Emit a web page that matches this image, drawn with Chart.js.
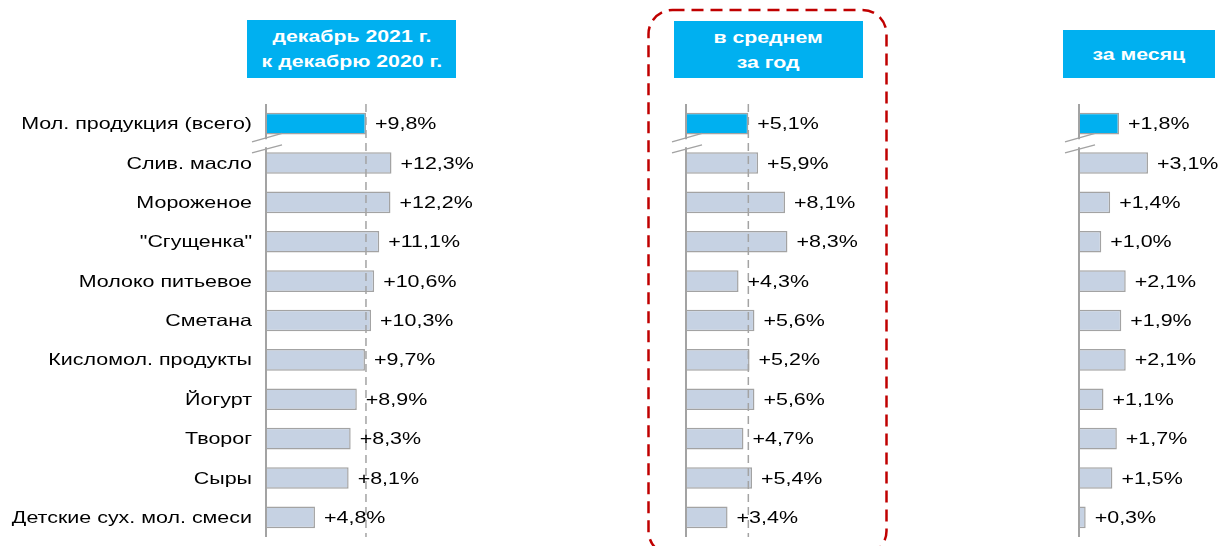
<!DOCTYPE html>
<html>
<head>
<meta charset="utf-8">
<script src="https://cdn.jsdelivr.net/npm/chart.js@4"></script>
<style>
  body { margin: 0; background: #fff; font-family: "Liberation Sans", Arial, sans-serif; }
  .wrap { position: relative; width: 1220px; height: 546px; overflow: hidden; }
  canvas { position: absolute; top: 0; }
  .hdr {
    position: absolute; background: #00b0f0; color: #fff; font-weight: bold;
    font-size: 16px; line-height: 25px; text-align: center;
    display: flex; align-items: center; justify-content: center;
  }
  .hdr span { display: inline-block; transform: scaleX(1.33); white-space: nowrap; }
  svg { position: absolute; left: 0; top: 0; }
</style>
</head>
<body>
<div class="wrap">
  <svg width="1220" height="546">
    <rect x="648.5" y="10" width="238" height="545" rx="24" ry="24"
      fill="none" stroke="#c00000" stroke-width="2.5" stroke-dasharray="12,7"></rect>
  </svg>
  <div class="hdr" style="left:247px;top:20px;width:209px;height:58px;"><span>декабрь 2021 г.<br>к декабрю 2020 г.</span></div>
  <div class="hdr" style="left:674px;top:21px;width:189px;height:57px;"><span>в среднем<br>за год</span></div>
  <div class="hdr" style="left:1063px;top:30px;width:152px;height:48px;"><span>за месяц</span></div>
  <canvas id="c1" style="left:0px" width="520" height="546"></canvas>
  <canvas id="c2" style="left:640px" width="230" height="546"></canvas>
  <canvas id="c3" style="left:1040px" width="180" height="546"></canvas>
</div>
<script>
const categories = [
  "Мол. продукция (всего)",
  "Слив. масло",
  "Мороженое",
  "\"Сгущенка\"",
  "Молоко питьевое",
  "Сметана",
  "Кисломол. продукты",
  "Йогурт",
  "Творог",
  "Сыры",
  "Детские сух. мол. смеси",
];

// прирост цен, %
const decToDec = [9.8, 12.3, 12.2, 11.1, 10.6, 10.3, 9.7, 8.9, 8.3, 8.1, 4.8];
const yearAvg = [5.1, 5.9, 8.1, 8.3, 4.3, 5.6, 5.2, 5.6, 4.7, 5.4, 3.4];
const monthly = [1.8, 3.1, 1.4, 1.0, 2.1, 1.9, 2.1, 1.1, 1.7, 1.5, 0.3];

const FONT = "Liberation Sans, Arial, sans-serif";
const GREY = "#a3a3a3";
const SX = 1.3; // text in the original is drawn wide

function fmt(v) {
  return "+" + v.toFixed(1).replace(".", ",") + "%";
}

function wideText(ctx, text, x, y, align) {
  ctx.save();
  ctx.translate(x, y);
  ctx.scale(SX, 1);
  ctx.textAlign = align;
  ctx.fillText(text, 0, 0);
  ctx.restore();
}

// axis line, break marks, dashed total line, labels
const extras = {
  id: "extras",
  afterDatasetsDraw(chart, args, opts) {
    const { ctx, chartArea, scales } = chart;
    const x = scales.x, y = scales.y;
    const top = chartArea.top, bottom = chartArea.bottom;
    const x0 = x.getPixelForValue(0);
    const vals = chart.data.datasets[0].data;

    ctx.save();
    // dashed line at total
    if (opts.refLine) {
      const xr = x.getPixelForValue(vals[0]);
      ctx.strokeStyle = GREY;
      ctx.lineWidth = 1.5;
      ctx.setLineDash([8, 5]);
      ctx.beginPath();
      ctx.moveTo(xr, top);
      ctx.lineTo(xr, bottom);
      ctx.stroke();
      ctx.setLineDash([]);
    }

    // axis line with a gap for the break
    const yb = (y.getPixelForValue(0) + y.getPixelForValue(1)) / 2;
    ctx.strokeStyle = GREY;
    ctx.lineWidth = 2;
    ctx.beginPath();
    ctx.moveTo(x0, top);
    ctx.lineTo(x0, yb - 4);
    ctx.moveTo(x0, yb + 4);
    ctx.lineTo(x0, bottom);
    ctx.stroke();

    // break marks
    ctx.lineWidth = 1.5;
    ctx.beginPath();
    ctx.moveTo(x0 - 14, yb - 1.5);
    ctx.lineTo(x0 + 16, yb - 10);
    ctx.moveTo(x0 - 14, yb + 9.5);
    ctx.lineTo(x0 + 16, yb + 1.5);
    ctx.stroke();

    ctx.fillStyle = "#000";
    ctx.font = "16.5px " + FONT;
    ctx.textBaseline = "middle";
    // value labels
    vals.forEach((v, i) => {
      wideText(ctx, fmt(v), x.getPixelForValue(v) + 9, y.getPixelForValue(i) + 1, "left");
    });
    // category labels
    if (opts.labels) {
      chart.data.labels.forEach((lab, i) => {
        wideText(ctx, lab, x0 - 14, y.getPixelForValue(i) + 1, "right");
      });
    }
    ctx.restore();
  },
};

function makeChart(id, values, max, padLeft, padRight, labels, refLine) {
  new Chart(document.getElementById(id), {
    type: "bar",
    data: {
      labels: categories,
      datasets: [{
        data: values,
        backgroundColor: values.map((v, i) => (i === 0 ? "#00b0f0" : "#c6d2e3")),
        borderColor: GREY,
        borderWidth: 1.5,
        borderSkipped: "start",
        categoryPercentage: 1,
        barPercentage: 0.55,
      }],
    },
    options: {
      indexAxis: "y",
      responsive: false,
      animation: false,
      layout: { padding: { top: 104, bottom: 9, left: padLeft, right: padRight } },
      plugins: {
        legend: { display: false },
        tooltip: { enabled: false },
        extras: { refLine: refLine, labels: labels },
      },
      scales: {
        x: { display: false, min: 0, max: max },
        y: { display: false },
      },
    },
    plugins: [extras],
  });
}

makeChart("c1", decToDec, 19.8, 266, 52, true, true);
makeChart("c2", yearAvg, 9.9, 46, 63, false, true);
makeChart("c3", monthly, 4, 39, 52, false, false);
</script>
</body>
</html>
